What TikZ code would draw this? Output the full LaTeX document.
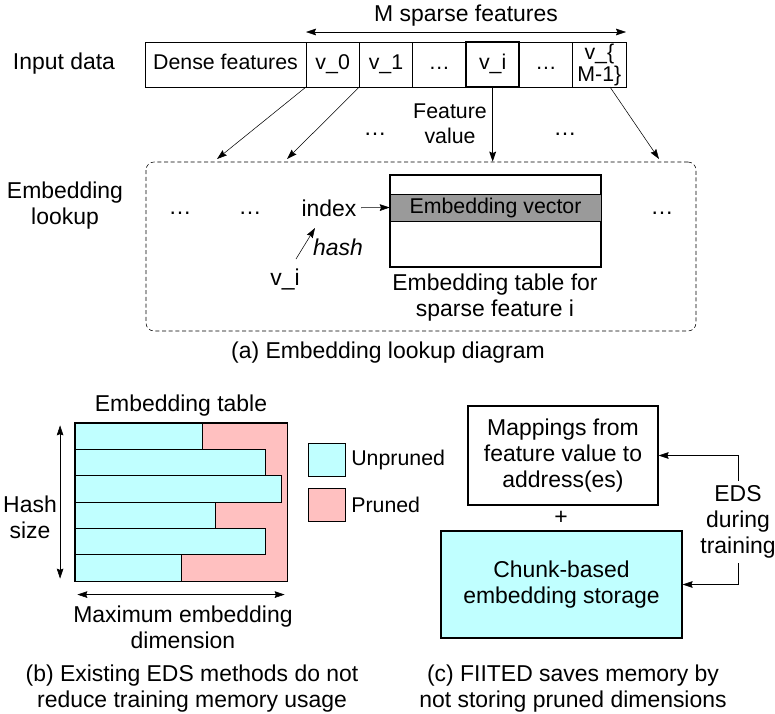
\documentclass[tikz,border=0pt]{standalone}
\usepackage{fontspec}
\setmainfont{Liberation Sans}
\usetikzlibrary{arrows.meta,positioning}
\definecolor{unpruned}{HTML}{C0FFFF}
\definecolor{pruned}{HTML}{FFC0C0}
\definecolor{vecgray}{HTML}{9A9A9A}

\begin{document}
\begin{tikzpicture}[x=0.75pt,y=-0.75pt,
      >={Stealth[length=7.5pt,width=5pt,inset=1pt]},
      every node/.style={font=\fontsize{17.2}{19.5}\selectfont},
      small/.style={font=\fontsize{16}{19}\selectfont},
      cell/.style={draw,small,outer sep=0pt,inner sep=0pt,minimum width=40pt,minimum height=33.75pt,
        text height=11.5pt,text depth=3.5pt},
      lookup box/.style={draw,dash pattern=on 3pt off 2pt,rounded corners=6pt,
        minimum width=412.5pt,minimum height=126.75pt},
      bar/.style={draw,fill=unpruned},
      legend box/.style={draw,minimum width=27.75pt,minimum height=24.75pt,inner sep=0pt}]
      \useasboundingbox (0,0) rectangle (775,714);

      % (a) input data row
      \node (input) at (64,64) {Input data};
      \node[cell,minimum width=120.75pt] (dense) at (225.5,64.5) {Dense features};
      \node[cell,right=0pt of dense] (v0) {v\_0};
      \node[cell,right=0pt of v0] (v1) {v\_1};
      \node[cell,right=0pt of v1] (dots1) {\ldots};
      \node[cell,right=0pt of dots1] (vi) {v\_i};
      \node[cell,right=0pt of vi] (dots2) {\ldots};
      \node[cell,right=0pt of dots2,text height=,text depth=,align=center,
        font=\fontsize{16}{16.5}\selectfont] (vM) {v\_\{\\M-1\}};
      \node[draw,line width=1.5pt,inner sep=0pt,minimum width=40pt,minimum height=33.75pt] at (vi) {};
      \draw[<->] ([yshift=7.5pt]v0.north west) -- ([yshift=7.5pt]vM.north east)
        node[midway,above=1pt] (msparse) {M sparse features};

      % (a) embedding lookup
      \node (lookuplabel) at (65,206) [align=center] {Embedding\\lookup};
      \node[lookup box] (lookupbox) at (421,246.5) {};
      \coordinate (in0) at (217,159);
      \coordinate (in1) at (287,159);
      \coordinate (inM) at (659,159);
      \draw[->] (dense.south east) -- (in0);
      \draw[->] (v0.south east) -- (in1);
      \draw[->] ([xshift=8pt]vM.south) -- (inM);
      \draw[->,line width=1.2pt] (vi.south) -- (vi.south |- lookupbox.north);
      \node[small,align=center] (featval) at (450,124) {Feature\\value};
      \node (gapdots1) at (375,134) {\ldots};
      \node (gapdots2) at (565,134) {\ldots};

      \node (ldots1) at (180,213) {\ldots};
      \node (ldots2) at (250,213) {\ldots};
      \node (ldots3) at (662,213) {\ldots};
      \node[draw,line width=1pt,minimum width=158.25pt,minimum height=69pt] (etable) at (495.5,221) {};
      \node[draw,small,fill=vecgray,minimum width=158.25pt,minimum height=19.9pt,inner sep=0pt] (evec)
        at (495.5,207.5) {Embedding vector};
      \draw[line width=1pt] (etable.north west) rectangle (etable.south east);
      \node (index) at (329,208) {index};
      \draw[->] (index) -- (evec.west);
      \node (vhash) at (285,279) {v\_i};
      \node[font=\fontsize{17.2}{19.5}\itshape] (hash) at (338,247) {hash};
      \draw[->] ([shift={(11,-20)}]vhash.center) -- ([shift={(-14,20)}]index.center);
      \node[align=center] (etlabel) at (495,298) {Embedding table for\\sparse feature i};
      \node (capa) at (388,353) {(a) Embedding lookup diagram};

      % (b) existing EDS methods
      \node[draw,fill=pruned,minimum width=159pt,minimum height=118.5pt,inner sep=0pt] (ptable) at (181,502) {};
      \foreach \w [count=\r] in {202,265,281,215,265,181}
        \draw[bar] (75,423+26.33*\r-26.33) rectangle (\w,423+26.33*\r);
      \draw[line width=1pt] (ptable.north west) rectangle (ptable.south east);
      \node[above=1pt of ptable] (tabtitle) {Embedding table};
      \draw[<->] ([xshift=-11pt,yshift=-2pt]ptable.north west) -- ([xshift=-11pt,yshift=2pt]ptable.south west);
      \node[align=center] (hashsize) at (30,517) {Hash\\size};
      \draw[<->] ([shift={(2pt,-10pt)}]ptable.south west) -- ([shift={(-2pt,-10pt)}]ptable.south east);
      \node[align=center] (maxdim) at (183,627) {Maximum embedding\\dimension};
      \node[legend box,fill=unpruned] (legu) at (326.5,459.5) {};
      \node[small,right=1pt of legu] {Unpruned};
      \node[legend box,fill=pruned] (legp) at (326.5,504.5) {};
      \node[small,right=1pt of legp] {Pruned};
      \node[align=center] (capb) at (192,689) {(b) Existing EDS methods do not\\reduce training memory usage};

      % (c) FIITED
      \node[draw,line width=1pt,minimum width=142.5pt,minimum height=74.25pt,align=center] (mapping)
        at (563,455.5) {Mappings from\\feature value to\\address(es)};
      \node (plus) at (561,518) {+};
      \node[draw,line width=1pt,fill=unpruned,minimum width=180.75pt,minimum height=80.25pt,align=center] (chunk)
        at (561.5,584.5) {Chunk-based\\embedding storage};
      \node[align=center] (eds) at (738,522) {EDS\\during\\training};
      \draw[->] (eds.north) |- (mapping.east);
      \draw[->] (eds.south) |- (chunk.east);
      \node[align=center] (capc) at (573,689) {(c) FIITED saves memory by\\not storing pruned dimensions};
    \end{tikzpicture}
\end{document}
